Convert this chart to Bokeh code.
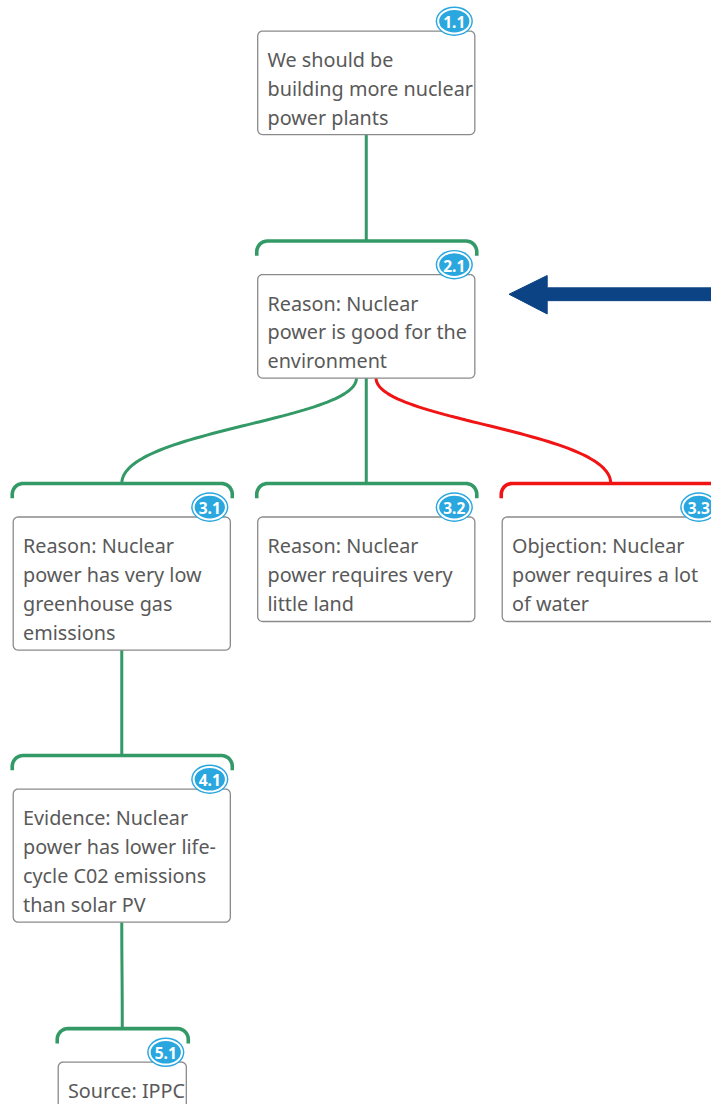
import numpy as np
from bokeh.plotting import figure
from bokeh.models import Range1d
from bokeh.embed import file_html
from bokeh.resources import INLINE
from bokeh.core.properties import value

# ---- data ----
node_ids = ["1.1", "2.1", "3.1", "3.2", "3.3", "4.1", "5.1"]
node_lines = [
    ["We should be", "building more nuclear", "power plants"],
    ["Reason: Nuclear", "power is good for the", "environment"],
    ["Reason: Nuclear", "power has very low", "greenhouse gas", "emissions"],
    ["Reason: Nuclear", "power requires very", "little land"],
    ["Objection: Nuclear", "power requires a lot", "of water"],
    ["Evidence: Nuclear", "power has lower life-", "cycle C02 emissions", "than solar PV"],
    ["Source: IPPC"],
]
node_parent = [None, "1.1", "2.1", "2.1", "2.1", "3.1", "4.1"]
node_kind = ["claim", "reason", "reason", "reason", "objection", "reason", "reason"]

# ---- layout (reference pixels) ----
node_left = [263, 263, 13, 263, 513, 13, 59]
node_top = [31, 278, 524, 524, 524, 800, 1077]
node_width = [222, 222, 222, 222, 222, 222, 131]
node_height = [105, 105, 135, 106, 106, 135, 60]
edge_start_dx = [0, 0, -10, 0, 10, 0, 0]

KIND_COLOR = {"claim": "#339966", "reason": "#339966", "objection": "#f01414"}
FONT = "Noto Sans"
TEXT_COLOR = "#595959"
BADGE = "#2aa7df"

W, H = 711, 1104
p = figure(width=W, height=H, x_range=Range1d(0, 727), y_range=Range1d(1120, 0),
           output_backend="svg", toolbar_location=None, min_border=0,
           background_fill_color="white", border_fill_color="white")
p.axis.visible = False
p.grid.visible = False
p.outline_line_color = None


def rrect(l, t, w, h, r=5):
    xs, ys = [], []
    corners = [(l + w - r, t + r, -90, 0), (l + w - r, t + h - r, 0, 90),
               (l + r, t + h - r, 90, 180), (l + r, t + r, 180, 270)]
    for cx, cy, a0, a1 in corners:
        a = np.radians(np.linspace(a0, a1, 8))
        xs.extend(cx + r * np.cos(a))
        ys.extend(cy + r * np.sin(a))
    return xs, ys


def bracket(x0, x1, y, drop=15, r=11):
    xs, ys = [x0, x0], [y + drop, y + r]
    a = np.radians(np.linspace(180, 270, 10))
    xs.extend(x0 + r + r * np.cos(a)); ys.extend(y + r + r * np.sin(a))
    a = np.radians(np.linspace(270, 360, 10))
    xs.extend(x1 - r + r * np.cos(a)); ys.extend(y + r + r * np.sin(a))
    xs.extend([x1, x1]); ys.extend([y + r, y + drop])
    return xs, ys


idx = {n: i for i, n in enumerate(node_ids)}

# edges
ex, ey, ec = [], [], []
for i, par in enumerate(node_parent):
    if par is None:
        continue
    j = idx[par]
    x0 = node_left[j] + node_width[j] / 2 + edge_start_dx[i]
    y0 = node_top[j] + node_height[j]
    x1 = node_left[i] + node_width[i] / 2
    y1 = node_top[i] - 34
    t = np.linspace(0, 1, 60)
    dy = y1 - y0
    P = [(x0, y0), (x0, y0 + 0.4 * dy), (x1, y0 + 0.5 * dy), (x1, y1)]
    bx = ((1 - t) ** 3 * P[0][0] + 3 * (1 - t) ** 2 * t * P[1][0]
          + 3 * (1 - t) * t ** 2 * P[2][0] + t ** 3 * P[3][0])
    by = ((1 - t) ** 3 * P[0][1] + 3 * (1 - t) ** 2 * t * P[1][1]
          + 3 * (1 - t) * t ** 2 * P[2][1] + t ** 3 * P[3][1])
    ex.append(list(bx)); ey.append(list(by)); ec.append(KIND_COLOR[node_kind[i]])
p.multi_line(ex, ey, line_color=ec, line_width=3)

# brackets
bxs, bys, bcs = [], [], []
for i, par in enumerate(node_parent):
    if par is None:
        continue
    xs, ys = bracket(node_left[i] - 1, node_left[i] + node_width[i] + 2, node_top[i] - 34)
    bxs.append(xs); bys.append(ys); bcs.append(KIND_COLOR[node_kind[i]])
p.multi_line(bxs, bys, line_color=bcs, line_width=3.6)

# boxes
rx, ry = [], []
for i in range(len(node_ids)):
    xs, ys = rrect(node_left[i], node_top[i], node_width[i], node_height[i])
    rx.append(xs); ry.append(ys)
p.patches(rx, ry, fill_color="white", line_color="#8a8a8a", line_width=1.3)

# texts
tx, ty, tt = [], [], []
for i, lines in enumerate(node_lines):
    for k, s in enumerate(lines):
        tx.append(node_left[i] + 10)
        ty.append(node_top[i] + 29 + 29.3 * k)
        tt.append(s)
p.text(tx, ty, text=tt, text_font=value(FONT), text_font_size="19.8px",
       text_color=TEXT_COLOR, text_baseline="alphabetic", text_align="left")

# badges
bx = [node_left[i] + node_width[i] - 21 for i in range(len(node_ids))]
by = [node_top[i] - 10 for i in range(len(node_ids))]
p.ellipse(bx, by, width=38, height=30, fill_color=BADGE, line_color=None)
p.ellipse(bx, by, width=33, height=25, fill_color=BADGE, line_color="white", line_width=2)
p.text(bx, [y + 1 for y in by], text=node_ids, text_font=value(FONT), text_font_size="15.5px",
       text_font_style="bold", text_color="white", text_align="center", text_baseline="middle")

# highlight arrow
p.patch([520, 559, 559, 740, 740, 559, 559], [298, 279, 291.5, 291.5, 304.5, 304.5, 318],
        fill_color="#0b4384", line_color="#0b4384", line_width=1)

open("out.html", "w").write(file_html(p, INLINE))
